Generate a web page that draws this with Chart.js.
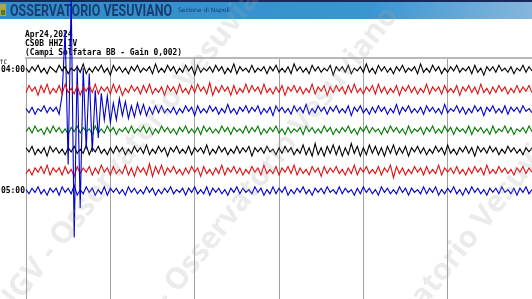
<html>
  <head>
    <title>Osservatorio Vesuviano - CS0B HHZ IV</title>
    <script src="https://cdn.jsdelivr.net/npm/chart.js@4.4.1/dist/chart.umd.min.js"></script>
    <style>
      body { margin: 0; background: #fff; }
    </style>
  </head>
  <body>
    <canvas id="heli" width="532" height="299"></canvas>
    <script>
      // header / station text
      var title = 'OSSERVATORIO VESUVIANO';
      var subtitle = 'Sezione di Napoli';
      var infoLines = ['Apr24,2024', 'CS0B HHZ IV', '(Campi Solfatara BB - Gain 0,002)'];
      var rowLabels = ['04:00', '', '', '', '', '', '05:00'];
      var rowColors = ['#000000', '#e01010', '#0000cc', '#007a00', '#000000', '#e01010', '#0000cc'];
      var watermark = 'INGV - Osservatorio Vesuviano';

      // trace amplitudes (counts), one sample every ~3.6 s over each 10 min row
      var row1 = [1,-2,2,-1,3,-2,1,-3,2,0,-2,3,-1,
        2,-3,1,-1,2,-2,4,-3,1,-2,2,-1,3,
        -2,1,-4,3,-1,2,-2,1,-3,2,-1,3,-2,
        1,-1,2,-3,4,-2,1,-2,3,-1,2,-3,1,
        -2,3,-1,2,-4,3,-2,1,-1,2,-2,3,-1,
        2,-3,1,-2,4,-3,2,-1,1,-2,3,-2,1,
        -1,2,-3,2,-1,3,-2,1,-2,2,-3,4,-1,
        2,-2,1,-3,3,-1,2,-2,1,-1,3,-4,2,
        -1,2,-2,3,-3,1,-1,2,-2,4,-2,1,-3,
        3,-1,2,-2,1,-3,2,-1,3,-2,1,-1,2,
        -3,4,-2,1,-2,3,-1,2,-3,1,-2,2,-1,
        3,-2,1,-1,2,-3,3,-2,1,-4,2,-1,2,
        -2,3,-1,1,-2,2,-3,1,-1,3,-2,2,-1];
      var row2 = [-2,3,-1,2,-4,3,-2,4,-3,1,-2,3,-3,
        4,-2,1,-3,3,-4,2,-1,3,-2,4,-3,2,
        -1,2,-3,4,-2,3,-4,1,-2,3,-1,2,-3,
        3,-2,4,-3,1,-2,2,-4,3,-1,2,-3,4,
        -2,1,-3,3,-2,4,-1,2,-3,5,-4,2,-2,
        3,-1,2,-4,3,-3,1,-2,4,-2,3,-1,2,
        -3,4,-2,1,-3,2,-2,3,-4,2,-1,3,-2,
        2,-3,1,-2,4,-3,2,-1,3,-4,2,-2,3,
        -1,2,-3,3,-2,4,-2,1,-3,2,-1,3,-3,
        4,-2,2,-3,1,-2,3,-4,2,-1,3,-2,2,
        -3,1,-2,4,-3,2,-1,2,-3,3,-2,1,-2,
        3,-4,2,-1,3,-2,2,-3,4,-2,1,-3,2,
        -2,3,-1,2,-3,1,-2,3,-2,2,-1,3,-2];
      var row3 = [1,-2,2,-3,1,-1,3,-2,2,-1,2,-3,
        11,57,-39,80,-91,32,-70,30,-28,26,-30,14,-20,
        12,-7,10,-9,5,-7,8,-4,6,-6,3,-5,
        5,-3,4,-4,2,-3,3,-2,3,-2,1,-2,
        2,-3,1,-2,3,-1,2,-4,3,-2,1,-2,
        3,-1,2,-3,1,-2,4,-2,1,-3,2,-1,
        3,-2,2,-1,3,-3,1,-2,2,-4,3,-1,
        2,-2,1,-3,3,-1,2,-2,4,-3,1,-2,
        3,-1,2,-3,2,-1,3,-2,1,-2,3,-4,
        2,-1,3,-2,1,-3,2,-2,3,-1,2,-3,
        1,-2,4,-3,2,-1,3,-2,1,-2,2,-3,
        3,-1,2,-2,1,-3,4,-2,1,-1,3,-2,
        2,-3,1,-2,3,-1,2,-4,2,-1,3,-2,
        1,-2,3,-3,2,-1,2,-2,3,-1,1,-2];
      var row4 = [-1,2,-2,3,-1,1,-3,2,-2,3,-1,2,-2,
        1,-3,2,-1,3,-2,2,-1,1,-3,3,-2,1,
        -2,3,-1,2,-3,1,-1,2,-2,3,-2,1,-1,
        3,-2,2,-3,1,-2,3,-1,2,-2,1,-3,2,
        -1,3,-2,1,-2,2,-3,3,-1,2,-2,1,-2,
        3,-1,2,-3,2,-1,1,-2,3,-2,2,-1,3,
        -3,1,-2,2,-1,3,-2,1,-3,2,-2,1,-1,
        2,-3,3,-1,2,-2,1,-2,3,-1,2,-3,1,
        -2,2,-1,3,-2,1,-3,2,-1,3,-2,2,-1,
        1,-3,2,-2,3,-1,2,-2,1,-3,3,-2,1,
        -1,2,-3,2,-1,3,-2,1,-2,3,-1,2,-3,
        2,-1,1,-2,3,-3,2,-1,2,-2,1,-3,3,
        -2,1,-1,3,-2,2,-3,1,-1,2,-2,3,-1];
      var row5 = [2,-1,3,-3,1,-2,2,-4,3,-1,2,-2,1,
        -3,2,-1,3,-2,1,-2,4,-3,2,-1,3,-2,
        1,-3,2,-2,3,-1,2,-3,1,-2,3,-1,2,
        -2,4,-3,1,-2,3,-1,2,-4,2,-1,3,-2,
        1,-2,3,-3,2,-1,2,-2,4,-3,1,-2,3,
        -1,2,-3,1,-2,3,-2,2,-1,3,-4,2,-1,
        2,-2,3,-1,1,-3,2,-2,3,-1,2,-3,1,
        -2,4,-3,2,-4,5,-3,2,-4,3,-2,4,-3,
        3,-4,2,-3,5,-2,3,-4,2,-3,4,-2,3,
        -3,2,-4,3,-2,4,-3,2,-2,3,-4,2,-1,
        3,-2,2,-3,1,-2,3,-1,2,-3,4,-2,1,
        -3,2,-1,3,-2,2,-4,3,-1,2,-2,3,-1,
        2,-3,1,-2,3,-1,2,-2,1,-3,2,-1,2];
      var row6 = [-2,1,-3,2,-1,3,-2,4,-3,2,-1,2,-3,
        3,-2,1,-4,3,-2,2,-1,3,-3,2,-2,4,
        -1,2,-3,3,-2,1,-2,4,-3,2,-4,3,-1,
        2,-3,5,-4,3,-2,4,-3,2,-1,3,-2,1,
        -3,2,-2,3,-1,2,-4,3,-2,1,-3,2,-2,
        4,-3,2,-1,3,-2,2,-3,1,-2,3,-1,2,
        -3,4,-2,1,-2,3,-3,2,-1,3,-2,4,-3,
        2,-2,1,-3,3,-1,2,-4,3,-2,2,-1,3,
        -2,1,-3,2,-2,4,-3,2,-1,3,-2,1,-2,
        3,-3,2,-1,4,-5,3,-2,2,-3,1,-2,3,
        -1,2,-3,3,-2,1,-2,4,-3,2,-1,2,-2,
        3,-2,1,-3,2,-2,3,-1,2,-3,4,-2,1,
        -2,3,-1,2,-2,1,-3,2,-1,3,-2,2,-1];
      var row7 = [1,-2,2,-1,3,-2,1,-3,2,-1,2,-3,3,
        -1,2,-2,4,-3,1,-2,3,-1,2,-3,1,-2,
        3,-3,2,-1,2,-2,1,-3,3,-1,2,-2,1,
        -2,3,-1,2,-3,1,-2,2,-1,3,-2,1,-1,
        2,-3,2,-1,3,-2,1,-2,3,-3,2,-1,2,
        -2,1,-3,2,-1,3,-2,2,-1,1,-2,3,-1,
        2,-3,1,-2,3,-2,2,-1,3,-3,1,-2,2,
        -1,3,-2,1,-3,2,-1,2,-2,3,-1,1,-2,
        3,-2,2,-1,1,-3,2,-2,3,-1,2,-2,1,
        -3,3,-1,2,-2,1,-2,3,-1,2,-3,2,-1,
        1,-2,3,-2,2,-1,3,-3,1,-2,2,-1,3,
        -2,1,-3,2,-2,3,-1,2,-2,1,-3,2,-1,
        2,-2,3,-1,1,-2,2,-3,2,-1,3,-2,1];
      var rows = [row1, row2, row3, row4, row5, row6, row7];

      var gain = 1.4;        // counts -> axis units
      var rowStep = 20.25;   // vertical spacing between rows (axis units)
      var rowSeconds = 600;

      var datasets = rows.map(function(vals, r) {
        var n = vals.length - 1;
        return {
          data: vals.map(function(v, i) { return {x: i * rowSeconds / n, y: -r * rowStep + v * gain}; }),
          borderColor: rowColors[r],
          borderWidth: 1.1,
          pointRadius: 0,
          tension: 0,
          clip: false
        };
      });

      var decor = {
        id: 'decor',
        beforeDraw: function(chart) {
          var ctx = chart.ctx;
          ctx.save();
          // header bar
          var g = ctx.createLinearGradient(0, 0, 532, 0);
          g.addColorStop(0, '#2f8bcb');
          g.addColorStop(0.7, '#3a96d2');
          g.addColorStop(1, '#86b6dc');
          ctx.fillStyle = g;
          ctx.fillRect(0, 0, 532, 19);
          ctx.fillStyle = '#15295a';
          ctx.fillRect(0, 0, 532, 2);
          // tiny logo
          ctx.fillStyle = '#b0a640';
          ctx.fillRect(0, 4, 6, 12);
          ctx.fillStyle = '#4c7a3a';
          ctx.fillRect(1, 10, 4, 5);

          ctx.fillStyle = '#1b3b6c';
          ctx.font = 'bold 16px Roboto, "Liberation Sans", sans-serif';
          var w = ctx.measureText(title).width;
          ctx.save();
          ctx.translate(10, 16);
          ctx.scale(162 / w, 1);
          ctx.fillText(title, 0, 0);
          ctx.restore();
          ctx.font = '6px "DejaVu Sans", sans-serif';
          ctx.fillText(subtitle, 178, 12);

          // station info in monospace
          ctx.fillStyle = '#000';
          ctx.font = 'bold 9.5px "DejaVu Sans Mono", monospace';
          var base = [37, 46, 55];
          infoLines.forEach(function(t, k) {
            var tw = ctx.measureText(t).width;
            ctx.save();
            ctx.translate(25, base[k]);
            ctx.scale(4.76 * t.length / tw, 1);
            ctx.fillText(t, 0, 0);
            ctx.restore();
          });
          ctx.font = '6px "DejaVu Sans Mono", monospace';
          ctx.textAlign = 'right';
          ctx.fillText('UTC', 7, 64);

          // row time labels on the y scale
          var ys = chart.scales.y;
          ctx.font = 'bold 8px "DejaVu Sans Mono", monospace';
          ctx.textBaseline = 'middle';
          rowLabels.forEach(function(t, r) {
            if (t) ctx.fillText(t, chart.chartArea.left - 1, ys.getPixelForValue(-r * rowStep));
          });
          ctx.restore();
        },
        afterDraw: function(chart) {
          // diagonal watermark, each line anchored by one of its letters
          var ctx = chart.ctx;
          var a = -0.9;
          ctx.save();
          ctx.fillStyle = 'rgba(165,165,165,0.22)';
          ctx.font = 'bold 30px "Open Sans", sans-serif';
          [[2, 22, 300], [7, 178, 294], [14, 435, 294]].forEach(function(p) {
            var d = ctx.measureText(watermark.substring(0, p[0])).width;
            ctx.save();
            ctx.translate(p[1] - d * Math.cos(a), p[2] - d * Math.sin(a));
            ctx.rotate(a);
            ctx.fillText(watermark, 0, 0);
            ctx.restore();
          });
          ctx.restore();
        }
      };

      new Chart('heli', {
        type: 'line',
        data: { datasets: datasets },
        options: {
          responsive: false,
          animation: false,
          events: [],
          layout: { autoPadding: false, padding: { top: 58, left: 26, right: 0, bottom: 0 } },
          plugins: { legend: { display: false }, tooltip: { enabled: false } },
          scales: {
            x: {
              type: 'linear',
              position: 'top',
              min: 0,
              max: rowSeconds,
              ticks: { display: false, stepSize: 100 },
              grid: { color: '#a0a0a0', lineWidth: 1, drawTicks: false },
              border: { display: true, color: '#b8b8b8', width: 2 },
              afterFit: function(s) { s.height = 0; }
            },
            y: {
              type: 'linear',
              display: false,
              min: -229.5,
              max: 11.5
            }
          }
        },
        plugins: [decor]
      });
    </script>
  </body>
</html>
